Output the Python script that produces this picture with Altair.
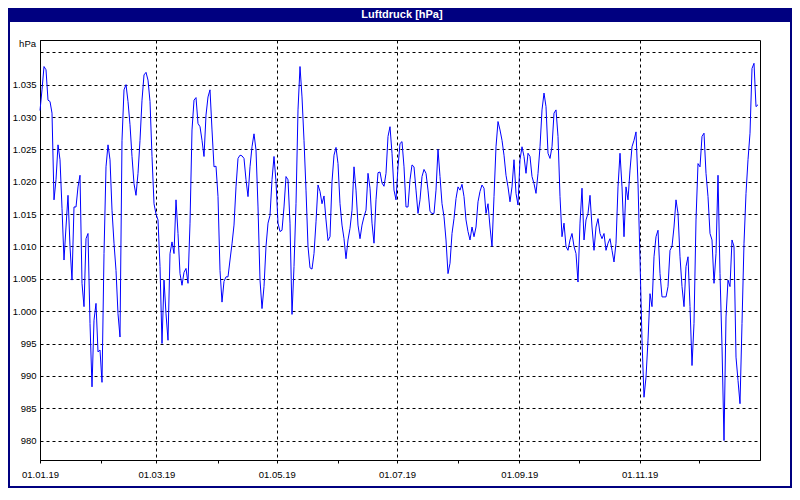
import altair as alt
import numpy as np
import pandas as pd

# Luftdruck readings (hPa), one value roughly every day
jan_feb = [1031.0, 1034.2, 1037.8, 1037.3, 1032.6, 1032.4, 1030.6, 1017.2, 1020.3, 1025.7,
           1023.4, 1015.9, 1007.9, 1013.0, 1017.9, 1010.0, 1004.8, 1016.1, 1016.1, 1019.2,
           1021.0, 1004.3, 1000.7, 1011.2, 1012.0, 998.1, 988.3, 998.6, 1001.2, 993.7,
           994.0, 989.0, 1008.9, 1022.3, 1025.7, 1023.4, 1015.6, 1010.5, 1006.3, 999.6,
           996.0, 1026.4, 1034.2, 1035.0, 1032.4, 1028.8, 1023.9, 1019.7, 1017.9, 1021.3,
           1026.4, 1032.6, 1036.5, 1036.9, 1035.7, 1032.4, 1023.9, 1016.6, 1015.0, 1014.1]
mar_apr = [1006.9, 995.0, 1004.8, 999.6, 995.5, 1008.9, 1010.7, 1008.9, 1017.2, 1012.0,
           1005.8, 1004.0, 1006.0, 1006.6, 1004.3, 1013.6, 1028.0, 1032.6, 1033.0, 1029.0,
           1028.5, 1026.4, 1023.9, 1030.3, 1033.1, 1034.2, 1028.0, 1022.3, 1022.4, 1017.7,
           1006.3, 1001.4, 1004.6, 1005.3, 1005.3, 1007.9, 1010.4, 1013.3, 1019.2, 1023.6,
           1024.1, 1024.0, 1023.6, 1020.3, 1017.7, 1022.3, 1025.4, 1027.4, 1024.9, 1016.1,
           1004.8, 1000.4, 1003.8, 1010.0, 1013.6, 1014.8, 1020.3, 1023.9, 1020.0, 1013.6]
may_jun = [1012.3, 1012.5, 1016.1, 1020.8, 1020.3, 1013.6, 999.5, 1006.9, 1016.6, 1031.1,
           1037.8, 1033.1, 1026.4, 1018.7, 1010.0, 1006.7, 1006.5, 1008.9, 1013.8, 1019.5,
           1018.5, 1016.6, 1017.8, 1014.1, 1010.9, 1011.5, 1020.0, 1024.1, 1025.3, 1022.8,
           1016.6, 1013.3, 1011.2, 1008.1, 1011.0, 1012.8, 1015.6, 1022.3, 1018.7, 1013.3,
           1011.2, 1013.3, 1014.6, 1015.6, 1021.3, 1019.0, 1013.6, 1010.5, 1017.2, 1021.4,
           1021.5, 1019.8, 1019.3, 1021.3, 1027.0, 1028.5, 1024.4, 1018.7, 1017.2, 1022.3]
jul_aug = [1025.9, 1026.2, 1022.3, 1016.1, 1016.1, 1020.3, 1022.6, 1022.3, 1018.7, 1015.1,
           1017.2, 1020.8, 1021.9, 1021.3, 1018.7, 1015.4, 1015.1, 1015.1, 1018.7, 1025.0,
           1020.8, 1016.6, 1014.6, 1011.0, 1005.8, 1007.4, 1012.0, 1014.3, 1017.4, 1019.2,
           1018.7, 1019.6, 1017.7, 1014.1, 1012.3, 1011.0, 1013.0, 1011.5, 1013.0, 1016.9,
           1018.5, 1019.5, 1019.0, 1015.1, 1016.6, 1013.0, 1010.0, 1017.7, 1025.4, 1029.3,
           1028.0, 1026.4, 1024.1, 1021.0, 1019.2, 1016.9, 1019.2, 1023.4, 1018.2, 1016.4]
sep_oct = [1023.4, 1025.4, 1023.9, 1021.3, 1024.4, 1023.9, 1020.8, 1019.7, 1018.2, 1021.3,
           1025.4, 1031.1, 1033.7, 1031.6, 1024.4, 1023.6, 1025.4, 1030.6, 1031.1, 1027.0,
           1017.7, 1011.5, 1013.6, 1010.0, 1009.4, 1011.0, 1012.0, 1010.0, 1008.9, 1004.5,
           1013.6, 1019.0, 1011.0, 1014.1, 1015.1, 1017.9, 1013.0, 1009.4, 1013.0, 1014.3,
           1012.0, 1011.2, 1012.0, 1009.4, 1010.5, 1011.2, 1009.4, 1007.6, 1010.5, 1019.2,
           1024.4, 1019.2, 1011.5, 1019.2, 1017.2, 1021.8, 1025.4, 1026.4, 1027.7, 1019.7]
nov_dec = [1008.0, 995.5, 986.7, 989.8, 995.5, 1002.7, 1000.7, 1008.4, 1011.5, 1012.5,
           1005.8, 1002.2, 1002.2, 1002.2, 1003.8, 1009.4, 1010.0, 1013.0, 1017.2, 1015.1,
           1008.4, 1003.8, 1000.7, 1006.9, 1008.4, 1000.7, 991.6, 998.1, 1014.1, 1022.8,
           1022.3, 1027.0, 1027.5, 1021.3, 1017.7, 1012.0, 1011.0, 1004.3, 1008.9, 1021.0,
           1005.8, 994.5, 980.0, 999.1, 1004.8, 1003.8, 1011.0, 1010.0, 992.9, 989.3,
           985.7, 998.1, 1010.5, 1018.2, 1023.4, 1027.5, 1037.5, 1038.3, 1031.6, 1031.9]

values = jan_feb + mar_apr + may_jun + jul_aug + sep_oct + nov_dec
start = pd.Timestamp("2019-01-01")
dates = start + pd.to_timedelta(np.arange(len(values)) * 365 / len(values), unit="D")
df = pd.DataFrame({"datum": dates, "hpa": values})

y_ticks = list(range(980, 1045, 5))
x_ticks = [alt.DateTime(year=2019, month=m, date=1) for m in range(1, 13)]
title_text = "Luftdruck [hPa]"
unit_text = "hPa"

FONT = "Liberation Sans"
NAVY = "#000080"

line = alt.Chart(df).mark_line(color="#0000ff", strokeWidth=1).encode(
    x=alt.X(
        "datum:T",
        title=None,
        scale=alt.Scale(domain=[alt.DateTime(year=2019, month=1, date=1),
                                alt.DateTime(year=2020, month=1, date=1)]),
        axis=alt.Axis(
            values=x_ticks,
            labelExpr="month(datum.value) % 2 == 0 ? timeFormat(datum.value, '%d.%m.%y') : ''",
            labelFlush=False,
            labelOverlap=False,
            labelPadding=6,
            tickSize=3,
            tickColor="black",
            domainColor="black",
            grid=True,
            gridColor="black",
            gridDash=[3, 3],
            gridOpacity={"condition": {"test": "month(datum.value) % 2 == 1", "value": 0}, "value": 1},
        ),
    ),
    y=alt.Y(
        "hpa:Q",
        title=None,
        scale=alt.Scale(domain=[977, 1041.9], nice=False, zero=False),
        axis=alt.Axis(
            values=y_ticks,
            labelExpr="datum.value == 1040 ? '' : replace(format(datum.value, ',d'), ',', '.')",
            ticks=False,
            labelPadding=4,
            domainColor="black",
            grid=True,
            gridColor="black",
            gridDash=[3, 3],
        ),
    ),
)

one = pd.DataFrame({"title": [title_text], "unit": [unit_text]})

title_bar = alt.Chart(one).mark_rect(color=NAVY).encode(
    x=alt.value(-32), x2=alt.value(752), y=alt.value(-32), y2=alt.value(-18)
)
frame = alt.Chart(one).mark_rect(fill=None, stroke=NAVY, strokeWidth=2).encode(
    x=alt.value(-31), x2=alt.value(751), y=alt.value(-31), y2=alt.value(447)
)
title = alt.Chart(one).mark_text(
    color="white", font=FONT, fontSize=11, fontWeight="bold", align="center", baseline="middle"
).encode(x=alt.value(362), y=alt.value(-25), text="title:N")
unit = alt.Chart(one).mark_text(
    color="black", font=FONT, fontSize=9.5, align="right", baseline="alphabetic"
).encode(x=alt.value(-4), y=alt.value(7), text="unit:N")

chart = alt.layer(line, title_bar, frame, title, unit).properties(
    width=720,
    height=420,
    padding={"left": 32, "top": 32, "right": 32, "bottom": 28},
    autosize=alt.AutoSizeParams(type="none"),
    background="white",
).configure_view(
    stroke="black", strokeWidth=1
).configure_axis(
    labelFont=FONT, labelFontSize=9.5, labelColor="black"
)

chart.save("out.html", embed_options={"renderer": "svg", "actions": False})
